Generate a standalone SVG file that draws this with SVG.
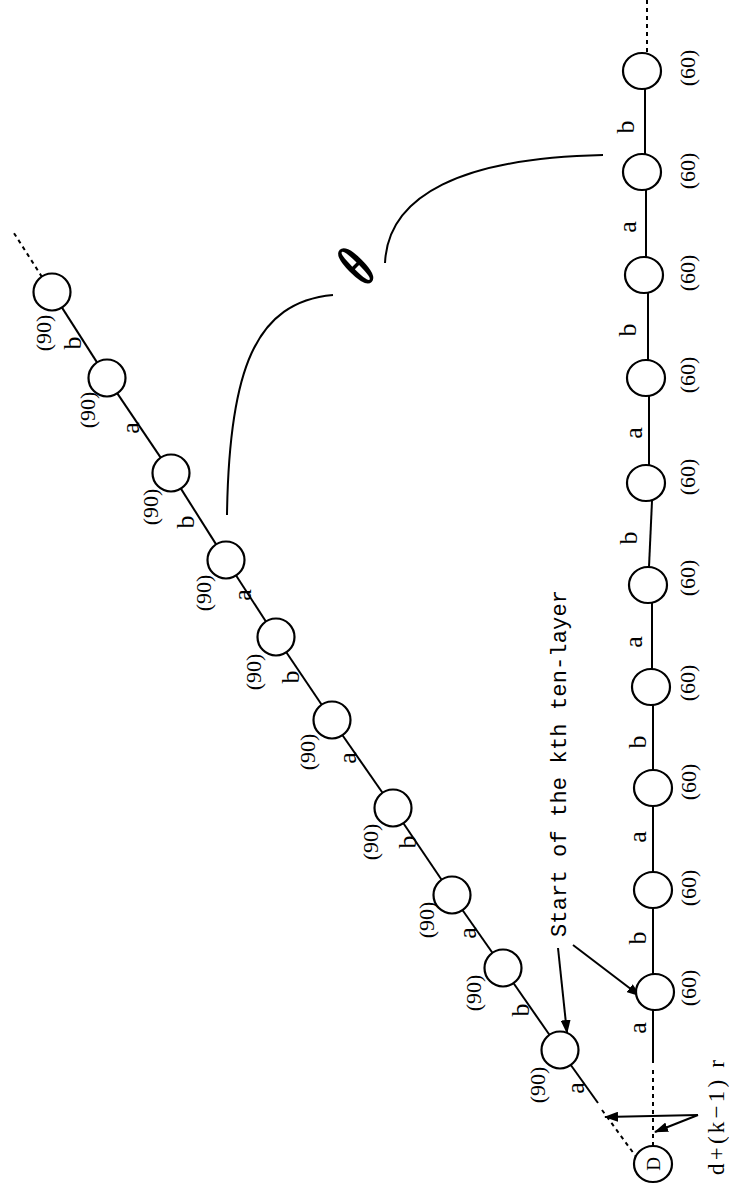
<svg xmlns="http://www.w3.org/2000/svg" width="729" height="1191" viewBox="0 0 729 1191">
<style>
.n{fill:#fff;stroke:#000;stroke-width:2.2}
.e{stroke:#000;stroke-width:2;fill:none}
.d{stroke-dasharray:4 4}
text{font-family:"Liberation Serif","Times New Roman",serif;fill:#000;text-anchor:middle;dominant-baseline:central}
.w{font-size:22px}
.ab{font-size:26px}
.mono{font-family:"Liberation Mono","Courier New",monospace;font-size:22px;text-anchor:start}
</style>
<defs>
<marker id="ah" markerWidth="14" markerHeight="10" refX="13" refY="5" orient="auto" markerUnits="userSpaceOnUse">
<path d="M0,0 L14,5 L0,10 Z" fill="#000"/>
</marker>
</defs>
<rect width="729" height="1191" fill="#fff"/>
<g id="connectors">
<line class="e d" x1="42" y1="277" x2="12" y2="230"/>
<line class="e" x1="62" y1="307.6" x2="97" y2="362.4"/>
<line class="e" x1="117.3" y1="393.4" x2="160.7" y2="457.6"/>
<line class="e" x1="180.9" y1="488.6" x2="216.1" y2="544.4"/>
<line class="e" x1="236.1" y1="575.5" x2="265.9" y2="621.5"/>
<line class="e" x1="286.3" y1="652.3" x2="321.7" y2="704.7"/>
<line class="e" x1="342.5" y1="735.2" x2="382.5" y2="792.8"/>
<line class="e" x1="403.4" y1="823.3" x2="441.6" y2="879.7"/>
<line class="e" x1="462.6" y1="910.2" x2="492.4" y2="952.8"/>
<line class="e" x1="513.6" y1="983.2" x2="549.4" y2="1034.8"/>
<line class="e" x1="570.8" y1="1065" x2="598" y2="1103"/>
<line class="e d" x1="602" y1="1110" x2="637" y2="1158"/>
<line class="e d" x1="647" y1="0" x2="647" y2="53"/>
<line class="e" x1="645" y1="89" x2="645" y2="154"/>
<line class="e" x1="646" y1="190" x2="646" y2="257"/>
<line class="e" x1="648" y1="293" x2="648" y2="360"/>
<line class="e" x1="649" y1="396" x2="649" y2="465"/>
<line class="e" x1="652" y1="501" x2="649" y2="567"/>
<line class="e" x1="652" y1="603" x2="652" y2="669"/>
<line class="e" x1="653" y1="705" x2="653" y2="770"/>
<line class="e" x1="653" y1="806" x2="653" y2="872"/>
<line class="e" x1="653" y1="908" x2="653" y2="974"/>
<line class="e" x1="653" y1="1010" x2="653" y2="1063"/>
<line class="e d" x1="653" y1="1070" x2="653" y2="1146"/>
<path class="e" d="M333,295 C255,302 229,370 227,515"/>
<path class="e" d="M603,155 C462,158 388,195 385,263"/>
<line class="e" x1="558" y1="948" x2="567" y2="1033" marker-end="url(#ah)"/>
<line class="e" x1="573" y1="945" x2="640" y2="996" marker-end="url(#ah)"/>
<line class="e" x1="698" y1="1115" x2="605" y2="1117" marker-end="url(#ah)"/>
<line class="e" x1="698" y1="1115" x2="655" y2="1132" marker-end="url(#ah)"/>
<text class="ab" transform="translate(72,343) rotate(-90)">b</text>
<text class="ab" transform="translate(130,428) rotate(-90)">a</text>
<text class="ab" transform="translate(185,522) rotate(-90)">b</text>
<text class="ab" transform="translate(242,595) rotate(-90)">a</text>
<text class="ab" transform="translate(290,677) rotate(-90)">b</text>
<text class="ab" transform="translate(347,758) rotate(-90)">a</text>
<text class="ab" transform="translate(407,842) rotate(-90)">b</text>
<text class="ab" transform="translate(467,933) rotate(-90)">a</text>
<text class="ab" transform="translate(520,1010) rotate(-90)">b</text>
<text class="ab" transform="translate(575,1088) rotate(-90)">a</text>
<text class="ab" transform="translate(625,127) rotate(-90)">b</text>
<text class="ab" transform="translate(627,227) rotate(-90)">a</text>
<text class="ab" transform="translate(627,330) rotate(-90)">b</text>
<text class="ab" transform="translate(633,433) rotate(-90)">a</text>
<text class="ab" transform="translate(628,538) rotate(-90)">b</text>
<text class="ab" transform="translate(633,642) rotate(-90)">a</text>
<text class="ab" transform="translate(637,742) rotate(-90)">b</text>
<text class="ab" transform="translate(637,837) rotate(-90)">a</text>
<text class="ab" transform="translate(637,938) rotate(-90)">b</text>
<text class="ab" transform="translate(637,1028) rotate(-90)">a</text>
</g>
<g id="d1"><circle class="n" cx="52" cy="292" r="18.5"/><text class="w" transform="translate(43,333) rotate(-90)">(90)</text></g>
<g id="d2"><circle class="n" cx="107" cy="378" r="18.5"/><text class="w" transform="translate(87,410) rotate(-90)">(90)</text></g>
<g id="d3"><circle class="n" cx="171" cy="473" r="18.5"/><text class="w" transform="translate(150,507) rotate(-90)">(90)</text></g>
<g id="d4"><circle class="n" cx="226" cy="560" r="18.5"/><text class="w" transform="translate(203,593) rotate(-90)">(90)</text></g>
<g id="d5"><circle class="n" cx="276" cy="637" r="18.5"/><text class="w" transform="translate(253,672) rotate(-90)">(90)</text></g>
<g id="d6"><circle class="n" cx="332" cy="720" r="18.5"/><text class="w" transform="translate(307,752) rotate(-90)">(90)</text></g>
<g id="d7"><circle class="n" cx="393" cy="808" r="18.5"/><text class="w" transform="translate(370,842) rotate(-90)">(90)</text></g>
<g id="d8"><circle class="n" cx="452" cy="895" r="18.5"/><text class="w" transform="translate(426,920) rotate(-90)">(90)</text></g>
<g id="d9"><circle class="n" cx="503" cy="968" r="18.5"/><text class="w" transform="translate(473,993) rotate(-90)">(90)</text></g>
<g id="d10"><circle class="n" cx="560" cy="1050" r="18.5"/><text class="w" transform="translate(537,1085) rotate(-90)">(90)</text></g>
<g id="v1"><ellipse class="n" cx="642" cy="71" rx="19" ry="18"/><text class="w" transform="translate(687,68) rotate(-90)">(60)</text></g>
<g id="v2"><ellipse class="n" cx="642" cy="172" rx="19" ry="18"/><text class="w" transform="translate(687,171) rotate(-90)">(60)</text></g>
<g id="v3"><ellipse class="n" cx="644" cy="275" rx="19" ry="18"/><text class="w" transform="translate(687,273) rotate(-90)">(60)</text></g>
<g id="v4"><ellipse class="n" cx="646" cy="378" rx="19" ry="18"/><text class="w" transform="translate(687,375) rotate(-90)">(60)</text></g>
<g id="v5"><ellipse class="n" cx="646" cy="483" rx="19" ry="18"/><text class="w" transform="translate(687,477) rotate(-90)">(60)</text></g>
<g id="v6"><ellipse class="n" cx="648" cy="585" rx="19" ry="18"/><text class="w" transform="translate(687,578) rotate(-90)">(60)</text></g>
<g id="v7"><ellipse class="n" cx="651" cy="687" rx="19" ry="18"/><text class="w" transform="translate(687,683) rotate(-90)">(60)</text></g>
<g id="v8"><ellipse class="n" cx="653" cy="788" rx="19" ry="18"/><text class="w" transform="translate(688,782) rotate(-90)">(60)</text></g>
<g id="v9"><ellipse class="n" cx="653" cy="890" rx="19" ry="18"/><text class="w" transform="translate(688,888) rotate(-90)">(60)</text></g>
<g id="v10"><ellipse class="n" cx="655" cy="992" rx="19" ry="18"/><text class="w" transform="translate(688,988) rotate(-90)">(60)</text></g>
<g id="D"><ellipse class="n" cx="653" cy="1164" rx="19" ry="18"/><text style="font-size:19px" transform="translate(653,1164) rotate(-90)">D</text></g>
<g id="theta"><text style="font-size:64px;font-weight:bold" transform="translate(356,266) rotate(-45) scale(0.6,1)">θ</text></g>
<g id="start-label"><text class="mono" textLength="347" lengthAdjust="spacing" transform="translate(560,937) rotate(-90)">Start of the kth ten-layer</text></g>
<g id="dk-label"><text style="font-size:23px;text-anchor:start" textLength="115" lengthAdjust="spacing" transform="translate(716,1175) rotate(-90)">d+(k−1) r</text></g>
</svg>
